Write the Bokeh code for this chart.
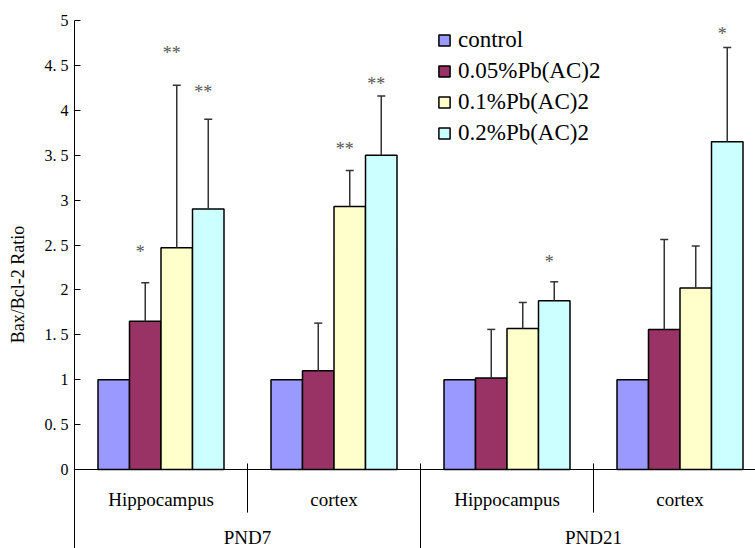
from bokeh.plotting import figure
from bokeh.models import Range1d, FixedTicker, Legend, LegendItem, Span
from bokeh.core.properties import value
from bokeh.embed import file_html
from bokeh.resources import INLINE

# ---------------- data ----------------
regions = ["Hippocampus", "cortex", "Hippocampus", "cortex"]
periods = ["PND7", "PND21"]
series = ["control", "0.05%Pb(AC)2", "0.1%Pb(AC)2", "0.2%Pb(AC)2"]
colors = ["#9999FF", "#993366", "#FFFFCC", "#CCFFFF"]

control = [1.0, 1.0, 1.0, 1.0]
pb005 = [1.65, 1.10, 1.02, 1.56]
pb01 = [2.47, 2.93, 1.57, 2.02]
pb02 = [2.90, 3.50, 1.88, 3.65]

control_err = [0.0, 0.0, 0.0, 0.0]
pb005_err = [0.43, 0.53, 0.54, 1.00]
pb01_err = [1.81, 0.40, 0.29, 0.47]
pb02_err = [1.00, 0.66, 0.21, 1.05]

control_sig = ["", "", "", ""]
pb005_sig = ["*", "", "", ""]
pb01_sig = ["**", "**", "", ""]
pb02_sig = ["**", "**", "*", "*"]

control_sig_y = [0, 0, 0, 0]
pb005_sig_y = [2.48, 0, 0, 0]
pb01_sig_y = [4.69, 3.62, 0, 0]
pb02_sig_y = [4.26, 4.35, 2.37, 4.90]

y_ticks = [0, 0.5, 1, 1.5, 2, 2.5, 3, 3.5, 4, 4.5, 5]
y_tick_labels = ["0", "0. 5", "1", "1. 5", "2", "2. 5", "3", "3. 5", "4", "4. 5", "5"]

values = [control, pb005, pb01, pb02]
errors = [control_err, pb005_err, pb01_err, pb02_err]
sigs = [control_sig, pb005_sig, pb01_sig, pb02_sig]
sig_ys = [control_sig_y, pb005_sig_y, pb01_sig_y, pb02_sig_y]

# ---------------- layout ----------------
W, H = 755, 548
left, top = 74, 20
group_px = 173.0
unit_px = 89.8
x_end = (W - left) / group_px
y_start = 5.0 - (H - top) / unit_px

SERIF = "Liberation Serif, serif"

p = figure(width=W, height=H, x_range=Range1d(0, x_end), y_range=Range1d(y_start, 5.0),
           output_backend="svg", toolbar_location=None, x_axis_location=None,
           min_border_left=left, min_border_right=0, min_border_top=top, min_border_bottom=0)
p.xgrid.visible = False
p.ygrid.visible = False
p.outline_line_color = None
p.background_fill_color = "white"
p.border_fill_color = "white"

ax = p.yaxis[0]
ax.ticker = FixedTicker(ticks=y_ticks)
ax.major_label_overrides = {t: l for t, l in zip(y_ticks, y_tick_labels)}
ax.major_tick_in = 6
ax.major_tick_out = 0
ax.minor_tick_line_color = None
ax.axis_line_color = "black"
ax.major_tick_line_color = "black"
ax.major_label_text_font = SERIF
ax.major_label_text_font_size = "16px"
ax.major_label_text_color = "black"
ax.major_label_standoff = 6
ax.axis_label = "Bax/Bcl-2 Ratio"
ax.axis_label_text_font = SERIF
ax.axis_label_text_font_size = "18px"
ax.axis_label_text_font_style = "normal"
ax.axis_label_text_color = "black"
ax.axis_label_standoff = 14

n_series = len(series)
bar_w = 31.5 / group_px
n_groups = len(regions)

renderers = []
for s in range(n_series):
    xs = [g + 0.5 + (s - (n_series - 1) / 2) * bar_w for g in range(n_groups)]
    r = p.vbar(x=xs, top=values[s], bottom=0, width=bar_w, fill_color=colors[s],
               line_color="black", line_width=1.5)
    renderers.append(r)
    # error bars
    ex, ey0, ey1 = [], [], []
    for g in range(n_groups):
        if errors[s][g] > 0:
            ex.append(xs[g]); ey0.append(values[s][g]); ey1.append(values[s][g] + errors[s][g])
    if ex:
        p.segment(x0=ex, y0=ey0, x1=ex, y1=ey1, line_color="#333333", line_width=1.5)
        cap = 4.0 / group_px
        p.segment(x0=[x - cap for x in ex], y0=ey1, x1=[x + cap for x in ex], y1=ey1,
                  line_color="#333333", line_width=1.5)
    # significance marks
    sx, sy, st = [], [], []
    for g in range(n_groups):
        if sigs[s][g]:
            sx.append(xs[g]); sy.append(sig_ys[s][g]); st.append(sigs[s][g])
    if sx:
        p.text(x=sx, y=sy, text=st, text_font=value(SERIF), text_font_size="18px",
               text_color="#555555", text_align="center", text_baseline="middle",
               x_offset=-5, y_offset=5)

# x axis line at zero
p.add_layout(Span(location=0, dimension="width", line_color="black", line_width=1))

# group separators
inner = [g for g in range(1, n_groups) if g % 2 == 1]
outer = [g for g in range(1, n_groups) if g % 2 == 0]
p.segment(x0=inner, y0=[0.067] * len(inner), x1=inner, y1=[-0.48] * len(inner),
          line_color="black", line_width=1)
p.segment(x0=outer, y0=[0.067] * len(outer), x1=outer, y1=[y_start] * len(outer),
          line_color="black", line_width=1)

# category labels
p.text(x=[g + 0.5 for g in range(n_groups)], y=[-0.334] * n_groups, text=regions,
       text_font=value(SERIF), text_font_size="19px", text_color="black",
       text_align="center", text_baseline="middle")
p.text(x=[2 * i + 1 for i in range(len(periods))], y=[-0.757] * len(periods), text=periods,
       text_font=value(SERIF), text_font_size="19px", text_color="black",
       text_align="center", text_baseline="middle")

legend = Legend(items=[LegendItem(label=series[i], renderers=[renderers[i]]) for i in range(n_series)],
                location=(363, 402))
legend.label_text_font = SERIF
legend.label_text_font_size = "23px"
legend.label_text_color = "black"
legend.glyph_width = 14
legend.glyph_height = 14
legend.label_standoff = 7
legend.spacing = 5
legend.padding = 0
legend.margin = 0
legend.border_line_color = None
legend.background_fill_alpha = 0
p.add_layout(legend)

open("out.html", "w").write(file_html(p, INLINE))
